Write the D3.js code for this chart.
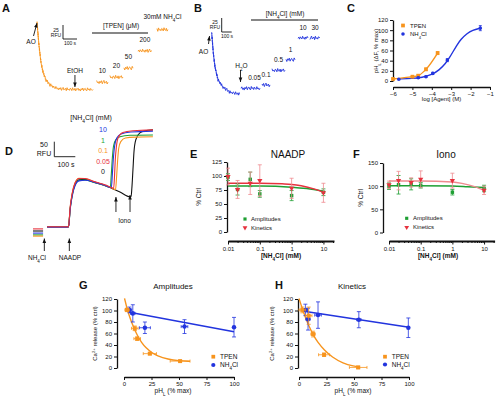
<!DOCTYPE html>
<html>
<head>
<meta charset="utf-8">
<script src="https://cdn.jsdelivr.net/npm/d3@7"></script>
<style>
  body { margin: 0; background: #fff; }
  svg { font-family: "Liberation Sans", Arial, sans-serif; }
</style>
</head>
<body>
<svg id="fig" width="500" height="396"></svg>
<script>
const ORANGE = "#F7941D", BLUE = "#2234DE", GREEN = "#1E9F33", RED = "#E6323E", PINK = "#EF8A8F", INK = "#111";

// recorded noise texture of the fluorescence traces (repeats along a trace)
const noise = [0.3, -0.8, 0.9, -0.2, -1, 0.6, 0.1, -0.5, 1, -0.9, 0.4, -0.1, 0.7, -0.6, -0.3, 0.8, -1, 0.2,
  0.5, -0.7, 0.9, -0.4, 0, -0.8, 0.6, -0.2, 1, -0.5, 0.3, -0.9, 0.8, -0.3, -0.7, 0.4, 0.9, -1, 0.2, -0.4,
  0.7, -0.6, 0.1, 0.6, -0.9, 0.3, -0.2, 0.8, -0.5];

// A: AO trace, time (s) vs RFU, TPEN steps
const aDecay = [[0, 121], [14, 80], [28, 50], [43, 32], [64, 18], [93, 9], [129, 4], [164, 2], [271, 1], [400, 1]];
const tpenSteps = [
  { label: "10", t0: 426, t1: 507, rfu: 14 },
  { label: "20", t0: 521, t1: 614, rfu: 23 },
  { label: "50", t0: 621, t1: 686, rfu: 39 },
  { label: "200", t0: 721, t1: 821, rfu: 70 }
];
const aNh4Step = { t0: 857, t1: 935, rfu: 108 };

// B: AO trace with NH4Cl steps (mM)
const bDecay = [[0, 111], [16, 75], [33, 50], [63, 27], [113, 14], [183, 5], [263, 2], [283, 3]];
const nh4Steps = [
  { label: "0.05", t0: 293, t1: 483, rfu: 12 },
  { label: "0.1", t0: 503, t1: 583, rfu: 18 },
  { label: "0.5", t0: 603, t1: 733, rfu: 44 },
  { label: "1", t0: 743, t1: 833, rfu: 63 },
  { label: "10", t0: 863, t1: 963, rfu: 102 },
  { label: "30", t0: 983, t1: 1083, rfu: 102 }
];

// C: concentration-response, log [Agent] (M) vs pHL
const tpenLog = [-6, -5, -4.7, -4.3, -3.7];
const tpenPh = [4, 8.5, 10.5, 23, 55];
const tpenPhErr = [1.5, 1.5, 2, 2.5, 3];
const nh4Log = [-5.7, -4.7, -4.3, -3.95, -3.2, -1.5];
const nh4Ph = [3.5, 6.5, 8.5, 15, 41, 104];
const nh4PhErr = [1, 1.5, 1.5, 2, 3, 5];
const nh4Fit = [[-5.7, 4], [-5, 5], [-4.5, 7], [-4, 12], [-3.6, 22], [-3.3, 34], [-3.1, 45], [-2.9, 58],
  [-2.7, 71], [-2.5, 82], [-2.2, 93], [-1.9, 100], [-1.5, 104]];

// D: NAADP then ionomycin traces, time (s) vs RFU, per [NH4Cl] (mM)
const dConcs = ["10", "1", "0.1", "0.05", "0"];
const dPre = { "0": 20, "0.05": 27, "0.1": 3, "1": 7, "10": 13 };
const dTraces = {
  "0": [[67, 33], [167, 33], [171, 42], [176, 88], [186, 138], [200, 176], [219, 191], [248, 192], [295, 182], [343, 172],
    [376, 162], [414, 150], [462, 134], [467, 134], [471, 165], [476, 225], [481, 285], [490, 325], [509, 347], [533, 354], [571, 357]],
  "0.05": [[67, 34], [167, 34], [171, 44], [176, 92], [186, 143], [200, 180], [219, 195], [248, 195], [295, 184], [343, 174],
    [376, 164], [384, 162], [388, 200], [392, 260], [397, 300], [405, 330], [428, 348], [476, 354], [571, 357]],
  "0.1": [[67, 32], [167, 32], [171, 42], [176, 90], [186, 142], [200, 180], [219, 196], [248, 195], [295, 183], [343, 172],
    [376, 163], [393, 158], [398, 200], [403, 255], [408, 295], [418, 318], [440, 330], [486, 333], [571, 334]],
  "1": [[67, 33], [167, 33], [171, 41], [176, 86], [186, 136], [200, 173], [219, 189], [248, 190], [295, 181], [343, 171],
    [368, 165], [373, 210], [378, 265], [384, 305], [395, 325], [414, 334], [462, 339], [571, 340]],
  "10": [[67, 33], [167, 33], [171, 40], [176, 84], [186, 134], [200, 171], [219, 187], [248, 189], [295, 182], [343, 172],
    [373, 164], [378, 210], [383, 265], [389, 305], [399, 330], [419, 343], [466, 350], [571, 353]]
};

// E, F: % of control vs [NH4Cl] (mM)
const nh4Doses = [0.01, 0.02, 0.05, 0.1, 1, 10];
const naadpAmp = [98, 76, 94, 68, 65, 71];
const naadpAmpErr = [6, 10, 13, 6, 9, 6];
const naadpKin = [99, 76, 87, 92, 78, 70];
const naadpKinErr = [15, 16, 20, 28, 18, 17];
const naadpAmpFit = [[0.01, 82], [0.1, 82], [1, 80], [3, 77.5], [10, 73]];
const naadpKinFit = [[0.01, 87], [0.1, 87], [0.5, 86], [1, 85], [2, 82.5], [5, 77], [10, 71]];
const ionoAmp = [100, 103, 104, 102, 87, 95];
const ionoAmpErr = [7, 20, 12, 6, 6, 7];
const ionoKin = [103, 112, 108, 115, 112, 91];
const ionoKinErr = [8, 20, 10, 18, 16, 9];
const ionoAmpFit = [[0.01, 101], [1, 100.5], [3, 99], [10, 97]];
const ionoKinFit = [[0.01, 111], [0.1, 111], [1, 109], [2, 106], [5, 99], [10, 91]];
const logMajor = [0.01, 0.1, 1, 10];
const logMinor = [0.02, 0.03, 0.04, 0.05, 0.06, 0.07, 0.08, 0.09, 0.2, 0.3, 0.4, 0.5, 0.6, 0.7, 0.8, 0.9,
  2, 3, 4, 5, 6, 7, 8, 9, 20];

// G, H: Ca2+ release (% ctrl) vs pHL (% max); rows are [x, y, xErr, yErr]
const gTpen = [[2.8, 101, 2, 3], [9.8, 69, 3, 4], [12, 51, 3, 3], [23.5, 25, 6, 2], [51, 12, 9, 1]];
const gNh4 = [[5, 101, 2, 5], [8, 95, 2, 15], [19, 70, 5, 10], [55, 72, 3, 12], [100, 71, 0, 17]];
const gTpenFit = [[0.5, 121], [3, 101], [6, 84], [9, 70], [12, 57], [16, 44], [20, 35], [25, 27], [30, 21], [40, 15], [50, 12.5], [60, 11.5]];
const gNh4Fit = [[5, 97], [100, 63]];
const hTpen = [[3, 101, 3, 5], [8.8, 91, 3, 15], [12.8, 59, 2, 5], [22.8, 23, 5, 3], [53.8, 1, 8, 2]];
const hNh4 = [[5.8, 101, 2, 10], [8.2, 85, 2, 19], [17.3, 92, 3, 23], [54.4, 84, 2, 14], [99.4, 70, 0, 17]];
const hTpenFit = [[0, 121], [3, 103], [6, 87], [9, 73], [13, 57], [17, 45], [23, 31], [30, 19], [40, 8], [50, 3], [55, 1.5]];
const hNh4Fit = [[3, 99], [100, 71]];
const pctTicks = [0, 20, 40, 60, 80, 100, 120];

const svg = d3.select("#fig");
const SUB = s => `<tspan baseline-shift="sub" font-size="70%">${s}</tspan>`;
const SUP = s => `<tspan baseline-shift="super" font-size="70%">${s}</tspan>`;

function txt(x, y, html, size, anchor = "middle", opt = {}) {
  const t = svg.append("text").attr("x", x).attr("y", y).attr("font-size", size)
    .attr("text-anchor", anchor).attr("fill", opt.fill || INK).html(html);
  if (opt.weight) t.attr("font-weight", opt.weight);
  if (opt.rotate) t.attr("transform", `rotate(-90,${x},${y})`);
  return t;
}

function arrow(x1, y1, x2, y2) {
  svg.append("line").attr("x1", x1).attr("y1", y1).attr("x2", x2).attr("y2", y2)
    .attr("stroke", INK).attr("stroke-width", 0.9);
  const a = Math.atan2(y2 - y1, x2 - x1), L = 4.5, W = 1.8;
  const p = [[x2, y2],
    [x2 - L * Math.cos(a) + W * Math.sin(a), y2 - L * Math.sin(a) - W * Math.cos(a)],
    [x2 - L * Math.cos(a) - W * Math.sin(a), y2 - L * Math.sin(a) + W * Math.cos(a)]];
  svg.append("path").attr("d", "M" + p.join("L") + "Z").attr("fill", INK);
}

let nk = 0;
function noisyLine(pts, xs, ys, amp) {
  const px = pts.map(([t, v]) => [xs(t), ys(v)]);
  const out = [];
  for (let i = 0; i < px.length - 1; i++) {
    const [x0, y0] = px[i], [x1, y1] = px[i + 1];
    const n = Math.max(1, Math.round(Math.hypot(x1 - x0, y1 - y0) / 0.8));
    for (let j = 0; j < n; j++) {
      const f = j / n;
      out.push([x0 + (x1 - x0) * f, y0 + (y1 - y0) * f + noise[nk++ % noise.length] * amp]);
    }
  }
  out.push(px[px.length - 1]);
  return d3.line()(out);
}

function trace(pts, xs, ys, color, amp) {
  svg.append("path").attr("d", noisyLine(pts, xs, ys, amp))
    .attr("fill", "none").attr("stroke", color).attr("stroke-width", 0.9).attr("stroke-linejoin", "round");
}

function styleAxis(g) {
  g.attr("font-family", null).attr("font-size", 6);
  g.select(".domain").attr("stroke", INK).attr("stroke-width", 1.3);
  g.selectAll(".tick line").attr("stroke", INK).attr("stroke-width", 1);
  g.selectAll(".tick text").attr("fill", INK);
}

function leftAxis(ys, x, values) {
  svg.append("g").attr("transform", `translate(${x},0)`)
    .call(d3.axisLeft(ys).tickValues(values).tickSize(3).tickSizeOuter(0).tickPadding(2))
    .call(styleAxis);
}

function bottomAxis(xs, y, values, fmt) {
  svg.append("g").attr("transform", `translate(0,${y})`)
    .call(d3.axisBottom(xs).tickValues(values).tickSize(3).tickSizeOuter(0).tickPadding(2).tickFormat(fmt))
    .call(styleAxis);
}

function logAxis(xs, y) {
  const g = svg.append("g").attr("transform", `translate(0,${y})`)
    .call(d3.axisBottom(xs).tickValues(logMajor.concat(logMinor)).tickSize(3.5).tickSizeOuter(0).tickPadding(2)
      .tickFormat(d => logMajor.includes(d) ? d3.format("~g")(d) : ""))
    .call(styleAxis);
  g.select(".domain").attr("stroke-width", 1.8);
  g.selectAll(".tick").filter(d => !logMajor.includes(d)).select("line").attr("y2", 2);
}

function errY(x, y0, y1, color, cap = 2, w = 0.8) {
  svg.append("line").attr("x1", x).attr("x2", x).attr("y1", y0).attr("y2", y1).attr("stroke", color).attr("stroke-width", w);
  [y0, y1].forEach(y => svg.append("line").attr("x1", x - cap).attr("x2", x + cap).attr("y1", y).attr("y2", y)
    .attr("stroke", color).attr("stroke-width", w));
}
function errX(y, x0, x1, color, cap = 2, w = 0.8) {
  svg.append("line").attr("y1", y).attr("y2", y).attr("x1", x0).attr("x2", x1).attr("stroke", color).attr("stroke-width", w);
  [x0, x1].forEach(x => svg.append("line").attr("y1", y - cap).attr("y2", y + cap).attr("x1", x).attr("x2", x)
    .attr("stroke", color).attr("stroke-width", w));
}

function marker(shape, x, y, color, size) {
  const sym = { square: d3.symbolSquare, circle: d3.symbolCircle, tri: d3.symbolTriangle }[shape];
  svg.append("path").attr("d", d3.symbol(sym, size)())
    .attr("transform", `translate(${x},${y})${shape === "tri" ? " rotate(180)" : ""}`).attr("fill", color);
}

function fitLine(pts, xs, ys, color, w = 1.5, curve = d3.curveMonotoneX) {
  svg.append("path").datum(pts)
    .attr("d", d3.line().x(d => xs(d[0])).y(d => ys(d[1])).curve(curve))
    .attr("fill", "none").attr("stroke", color).attr("stroke-width", w);
}

// ---------- panel letters ----------
[["A", 2, 12], ["B", 194, 12], ["C", 347, 12], ["D", 5, 155], ["E", 190, 158], ["F", 353, 158], ["G", 79, 289], ["H", 275, 289]]
  .forEach(([l, x, y]) => txt(x, y, l, 11, "start", { weight: "bold" }));

// ---------- A ----------
const xA = d3.scaleLinear().domain([0, 100]).range([37, 51]);
const yA = d3.scaleLinear().domain([0, 25]).range([90, 76]);
trace(aDecay, xA, yA, ORANGE, 1.6);
tpenSteps.forEach(s => {
  trace([[s.t0, s.rfu], [s.t1, s.rfu]], xA, yA, ORANGE, 1.8);
  txt(xA((s.t0 + s.t1) / 2), yA(s.rfu) - 9, s.label, 6.5);
});
trace([[aNh4Step.t0, aNh4Step.rfu], [aNh4Step.t1, aNh4Step.rfu]], xA, yA, ORANGE, 1.8);
txt(xA((aNh4Step.t0 + aNh4Step.t1) / 2), yA(aNh4Step.rfu) - 11, "30mM NH" + SUB("4") + "Cl", 6.5);
svg.append("line").attr("x1", 92).attr("x2", 148).attr("y1", 33).attr("y2", 33).attr("stroke", INK).attr("stroke-width", 1.2);
txt(121, 28, "[TPEN] (μM)", 6.5);
arrow(33.5, 36, 37, 23);
txt(31, 43.5, "AO", 6.5);
arrow(xA(271), 75, xA(271), 87);
txt(xA(271), 72.5, "EtOH", 6.5);
// scale bar A
svg.append("path").attr("d", `M63,25V${25 + yA(0) - yA(25)}H${63 + xA(100) - xA(0)}`).attr("fill", "none").attr("stroke", INK).attr("stroke-width", 0.9);
txt(56, 31.5, "25", 5);
txt(56, 36.5, "RFU", 5);
txt(70, 45, "100 s", 5);

// ---------- B ----------
const xB = d3.scaleLinear().domain([0, 100]).range([211.7, 221.7]);
const yB = d3.scaleLinear().domain([0, 25]).range([95, 81]);
trace(bDecay, xB, yB, BLUE, 1.6);
nh4Steps.forEach(s => {
  trace([[s.t0, s.rfu], [s.t1, s.rfu]], xB, yB, BLUE, 1.8);
  txt(xB((s.t0 + s.t1) / 2) + (s.label === "0.05" ? 4 : 0), yB(s.rfu) - 8, s.label, 6.5);
});
svg.append("line").attr("x1", 251).attr("x2", 318).attr("y1", 20).attr("y2", 20).attr("stroke", INK).attr("stroke-width", 1.2);
txt(285, 15.5, "[NH" + SUB("4") + "Cl] (mM)", 6.5);
arrow(208.5, 44, 209.5, 36);
txt(203.5, 54, "AO", 6.5);
arrow(xB(288), 70, xB(288), 82);
txt(xB(288) + 1, 67.5, "H" + SUB("2") + "O", 6.5);
svg.append("path").attr("d", `M221.7,18V${18 + yB(0) - yB(25)}H${221.7 + xB(100) - xB(0)}`).attr("fill", "none").attr("stroke", INK).attr("stroke-width", 0.9);
txt(215, 24, "25", 5);
txt(215, 29, "RFU", 5);
txt(227, 38, "100 s", 5);

// ---------- C ----------
const xC = d3.scaleLinear().domain([-6, -1]).range([393, 490]);
const yC = d3.scaleLinear().domain([0, 120]).range([81, 20]);
leftAxis(yC, 393, pctTicks);
bottomAxis(xC, 87, [-6, -5, -4, -3, -2, -1], d3.format("d"));
fitLine(nh4Fit, xC, yC, BLUE, 1.4, d3.curveBasis);
fitLine(tpenLog.map((d, i) => [d, tpenPh[i]]), xC, yC, ORANGE, 1.4);
tpenLog.forEach((d, i) => {
  errY(xC(d), yC(tpenPh[i] - tpenPhErr[i]), yC(tpenPh[i] + tpenPhErr[i]), ORANGE, 1.5);
  marker("square", xC(d), yC(tpenPh[i]), ORANGE, 14);
});
nh4Log.forEach((d, i) => {
  errY(xC(d), yC(nh4Ph[i] - nh4PhErr[i]), yC(nh4Ph[i] + nh4PhErr[i]), BLUE, 1.5);
  marker("circle", xC(d), yC(nh4Ph[i]), BLUE, 10);
});
marker("square", 403, 25.5, ORANGE, 14);
txt(410, 27.8, "TPEN", 6, "start");
marker("circle", 403, 34, BLUE, 10);
txt(410, 36.3, "NH" + SUB("4") + "Cl", 6, "start");
txt(378, 51, "pH" + SUB("L") + " (ΔF, % max)", 6, "middle", { rotate: true });
txt(441.5, 101, "log [Agent] (M)", 6);

// ---------- D ----------
const xD = d3.scaleLinear().domain([0, 100]).range([33, 54]);
const yD = d3.scaleLinear().domain([0, 50]).range([237, 222]);
const dColor = { "0": INK, "0.05": RED, "0.1": ORANGE, "1": GREEN, "10": BLUE };
["0", "1", "0.1", "10", "0.05"].forEach(c => {
  fitLine([[0, dPre[c]], [48, dPre[c]]], xD, yD, dColor[c], 1.1, d3.curveLinear);
  fitLine(dTraces[c], xD, yD, dColor[c], 1.1);
});
txt(91, 119.5, "[NH" + SUB("4") + "Cl] (mM)", 7);
dConcs.forEach((c, i) => txt(103, 132 + i * 10.5, c, 7, "middle", { fill: dColor[c] }));
svg.append("path").attr("d", `M54.3,${156.7 - (yD(0) - yD(50))}V156.7H${54.3 + xD(100) - xD(0)}`).attr("fill", "none").attr("stroke", INK).attr("stroke-width", 0.9);
txt(44, 147, "50", 7);
txt(44, 156, "RFU", 7);
txt(66, 167, "100 s", 7);
arrow(xD(54), 251, xD(54), 238.5);
txt(37, 260, "NH" + SUB("4") + "Cl", 6.5);
arrow(xD(173), 251, xD(173), 238.5);
txt(70, 260, "NAADP", 6.5);
arrow(xD(395), 212, xD(395), 197);
arrow(xD(462), 212, xD(462), 195);
txt(124.5, 223, "Iono", 6.5);

// ---------- E ----------
const xE = d3.scaleLog().domain([0.01, 21.5]).range([228, 334]);
const yE = d3.scaleLinear().domain([0, 125]).range([232, 162]);
leftAxis(yE, 227, [0, 25, 50, 75, 100, 125]);
logAxis(xE, 241);
fitLine(naadpAmpFit, xE, yE, GREEN, 1.5);
fitLine(naadpKinFit, xE, yE, RED, 1.5);
nh4Doses.forEach((d, i) => {
  errY(xE(d), yE(naadpAmp[i] - naadpAmpErr[i]), yE(naadpAmp[i] + naadpAmpErr[i]), GREEN, 2);
  marker("square", xE(d), yE(naadpAmp[i]), GREEN, 12);
  errY(xE(d), yE(naadpKin[i] - naadpKinErr[i]), yE(naadpKin[i] + naadpKinErr[i]), PINK, 2);
  marker("tri", xE(d), yE(naadpKin[i]), RED, 12);
});
txt(288, 158, "NAADP", 10);
txt(201, 197, "% Ctrl", 6.5, "middle", { rotate: true });
txt(281, 257.5, "[NH" + SUB("4") + "Cl] (mM)", 6.5, "middle", { weight: "bold" });
marker("square", 245, 219, GREEN, 10);
txt(251, 221, "Amplitudes", 6, "start");
marker("tri", 245, 227.7, RED, 10);
txt(251, 229.8, "Kinetics", 6, "start");

// ---------- F ----------
const xF = d3.scaleLog().domain([0.01, 21.5]).range([389, 494.6]);
const yF = d3.scaleLinear().domain([0, 150]).range([232.5, 163]);
leftAxis(yF, 383, [0, 50, 100, 150]);
logAxis(xF, 241);
fitLine(ionoAmpFit, xF, yF, GREEN, 1.5);
fitLine(ionoKinFit, xF, yF, PINK, 1.5);
nh4Doses.forEach((d, i) => {
  errY(xF(d), yF(ionoAmp[i] - ionoAmpErr[i]), yF(ionoAmp[i] + ionoAmpErr[i]), GREEN, 2);
  marker("square", xF(d), yF(ionoAmp[i]), GREEN, 12);
  errY(xF(d), yF(ionoKin[i] - ionoKinErr[i]), yF(ionoKin[i] + ionoKinErr[i]), PINK, 2);
  marker("tri", xF(d), yF(ionoKin[i]), RED, 12);
});
txt(446, 158, "Iono", 10);
txt(363, 198, "% Ctrl", 6.5, "middle", { rotate: true });
txt(438, 257.5, "[NH" + SUB("4") + "Cl] (mM)", 6.5, "middle", { weight: "bold" });
marker("square", 406.7, 218.3, GREEN, 10);
txt(413, 220.3, "Amplitudes", 6, "start");
marker("tri", 406.7, 227.3, RED, 10);
txt(413, 229.4, "Kinetics", 6, "start");

// ---------- G, H ----------
function pctPanel(xs, ys, yAxisX, tpen, nh4, tpenFit, nh4Fit) {
  leftAxis(ys, yAxisX, pctTicks);
  bottomAxis(xs, 377, [0, 25, 50, 75, 100], d3.format("d"));
  fitLine(tpenFit, xs, ys, ORANGE, 1.4, d3.curveBasis);
  fitLine(nh4Fit, xs, ys, BLUE, 1.6, d3.curveLinear);
  nh4.forEach(([x, y, xe, ye]) => {
    errY(xs(x), ys(y - ye), ys(y + ye), BLUE, 2);
    if (xe) errX(ys(y), xs(x - xe), xs(x + xe), BLUE, 1.5);
    marker("circle", xs(x), ys(y), BLUE, 16);
  });
  tpen.forEach(([x, y, xe, ye]) => {
    errY(xs(x), ys(y - ye), ys(y + ye), ORANGE, 2);
    errX(ys(y), xs(x - xe), xs(x + xe), ORANGE, 1.5);
    marker("square", xs(x), ys(y), ORANGE, 16);
  });
}
const yG = d3.scaleLinear().domain([0, 120]).range([368, 299]);
const xG = d3.scaleLinear().domain([0, 100]).range([124, 234]);
pctPanel(xG, yG, 117, gTpen, gNh4, gTpenFit, gNh4Fit);
txt(173, 289, "Amplitudes", 8);
txt(97, 333.5, "Ca" + SUP("2+") + " release (% ctrl)", 6, "middle", { rotate: true });
txt(173, 393, "pH" + SUB("L") + " (% max)", 6.5);
marker("square", 213.3, 356.7, ORANGE, 14);
txt(220, 359, "TPEN", 6.5, "start");
marker("circle", 213.3, 365, BLUE, 14);
txt(220, 367.3, "NH" + SUB("4") + "Cl", 6.5, "start");

const yH = d3.scaleLinear().domain([0, 120]).range([368, 299]);
const xH = d3.scaleLinear().domain([0, 100]).range([299, 409]);
pctPanel(xH, yH, 298, hTpen, hNh4, hTpenFit, hNh4Fit);
txt(352, 289, "Kinetics", 8);
txt(273.5, 333.5, "Ca" + SUP("2+") + " release (% ctrl)", 6, "middle", { rotate: true });
txt(353, 393, "pH" + SUB("L") + " (% max)", 6.5);
marker("square", 385, 356.7, ORANGE, 14);
txt(391.7, 359, "TPEN", 6.5, "start");
marker("circle", 385, 364.5, BLUE, 14);
txt(391.7, 366.8, "NH" + SUB("4") + "Cl", 6.5, "start");
</script>
</body>
</html>
